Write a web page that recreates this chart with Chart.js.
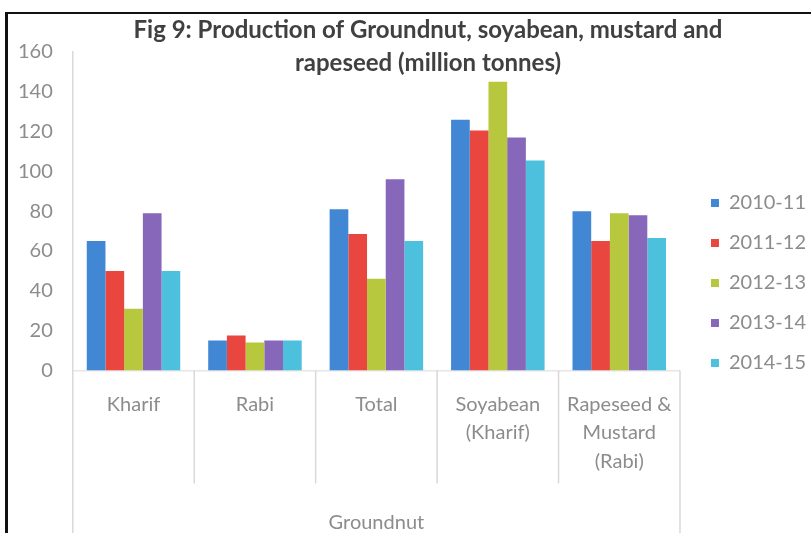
<!DOCTYPE html>
<html>
<head>
<meta charset="utf-8">
<script src="https://cdn.jsdelivr.net/npm/chart.js@4.4.1/dist/chart.umd.min.js"></script>
<style>
  html, body { margin: 0; padding: 0; background: #fff; overflow: hidden; }
  #frame {
    position: absolute; left: 5px; top: 12px; width: 900px; height: 600px;
    border-left: 3px solid #111; border-top: 2px solid #111;
  }
  #wrap { position: absolute; left: -14px; top: 14px; width: 825px; height: 540px; }
</style>
</head>
<body>
<div id="frame"></div>
<div id="wrap"><canvas id="chart"></canvas></div>
<script>
const categories = ['Kharif', 'Rabi', 'Total', ['Soyabean', '(Kharif)'], ['Rapeseed &', 'Mustard', '(Rabi)']];
const seasons = ['2010-11', '2011-12', '2012-13', '2013-14', '2014-15'];
const prod201011 = [65, 15, 81, 126, 80];
const prod201112 = [50, 17.5, 68.5, 120.5, 65];
const prod201213 = [31, 14, 46, 145, 79];
const prod201314 = [79, 15, 96, 117, 78];
const prod201415 = [50, 15, 65, 105.5, 66.5];
const groupLabel = 'Groundnut';
const titleLines = ['Fig 9: Production of Groundnut, soyabean, mustard and', 'rapeseed (million tonnes)'];

const colors = ['#4287d3', '#e8463f', '#b7c83f', '#8767ba', '#4cc0dc'];
const seriesData = [prod201011, prod201112, prod201213, prod201314, prod201415];
const labelColor = '#8c8c8c';
const lineColor = '#d9d9d9';

// title drawn by hand so it does not push the plot area down
const titlePlugin = {
    id: 'figTitle',
    afterDraw(chart) {
        const ctx = chart.ctx;
        ctx.save();
        ctx.font = 'bold 24px Lato';
        ctx.fillStyle = '#404040';
        ctx.textAlign = 'center';
        ctx.textBaseline = 'middle';
        ctx.fillText(titleLines[0], 442, 16);
        ctx.fillText(titleLines[1], 442, 49);
        ctx.restore();
    }
};

// category separators under the x axis, outer ones run to the bottom
const separatorPlugin = {
    id: 'separators',
    afterDraw(chart) {
        const x = chart.scales.x;
        const area = chart.chartArea;
        const ctx = chart.ctx;
        const n = x.getLabels().length;
        ctx.save();
        ctx.strokeStyle = lineColor;
        ctx.lineWidth = 1.5;
        for (let i = 0; i <= n; i++) {
            let px, bottom;
            if (i === 0) { px = area.left; bottom = chart.height; }
            else if (i === n) { px = area.right; bottom = chart.height; }
            else { px = (x.getPixelForValue(i - 1) + x.getPixelForValue(i)) / 2; bottom = area.bottom + 113; }
            ctx.beginPath();
            ctx.moveTo(px, area.bottom);
            ctx.lineTo(px, bottom);
            ctx.stroke();
        }
        ctx.restore();
    }
};

// nudge legend toward the reference position
const legendShift = {
    id: 'legendShift',
    afterLayout(chart) {
        const lg = chart.legend;
        lg.left += 11; lg.right += 11;
        lg.top -= 20; lg.bottom -= 20;
    }
};

const ctx = document.getElementById('chart').getContext('2d');
new Chart(ctx, {
    type: 'bar',
    data: {
        labels: categories,
        datasets: seasons.map((s, i) => ({
            label: s,
            data: seriesData[i],
            backgroundColor: colors[i],
            borderWidth: 0,
            categoryPercentage: 0.77,
            barPercentage: 1
        }))
    },
    options: {
        responsive: true,
        maintainAspectRatio: false,
        animation: false,
        layout: { padding: { left: 12, top: 38, right: 6, bottom: 0 } },
        plugins: {
            tooltip: { enabled: false },
            title: { display: false },
            legend: {
                position: 'right',
                labels: {
                    boxWidth: 8,
                    boxHeight: 8,
                    padding: 20,
                    color: labelColor,
                    font: { family: 'Lato', size: 20 }
                }
            }
        },
        scales: {
            x: {
                grid: { display: false, drawTicks: false },
                border: { display: true, color: '#e6e6e6', width: 1.5 },
                ticks: {
                    color: labelColor,
                    padding: 20,
                    maxRotation: 0,
                    autoSkip: false,
                    font: { family: 'Lato', size: 20, lineHeight: 1.42 }
                },
                title: {
                    display: true,
                    text: groupLabel,
                    color: labelColor,
                    font: { family: 'Lato', size: 20, lineHeight: 1.42 },
                    padding: { top: 13, bottom: 17 }
                }
            },
            y: {
                min: 0,
                max: 160,
                grid: { display: false, drawTicks: false },
                border: { display: true, color: lineColor, width: 1.5 },
                ticks: {
                    stepSize: 20,
                    color: labelColor,
                    padding: 20,
                    font: { family: 'Lato', size: 20 }
                }
            }
        }
    },
    plugins: [titlePlugin, separatorPlugin, legendShift]
});
</script>
</body>
</html>
